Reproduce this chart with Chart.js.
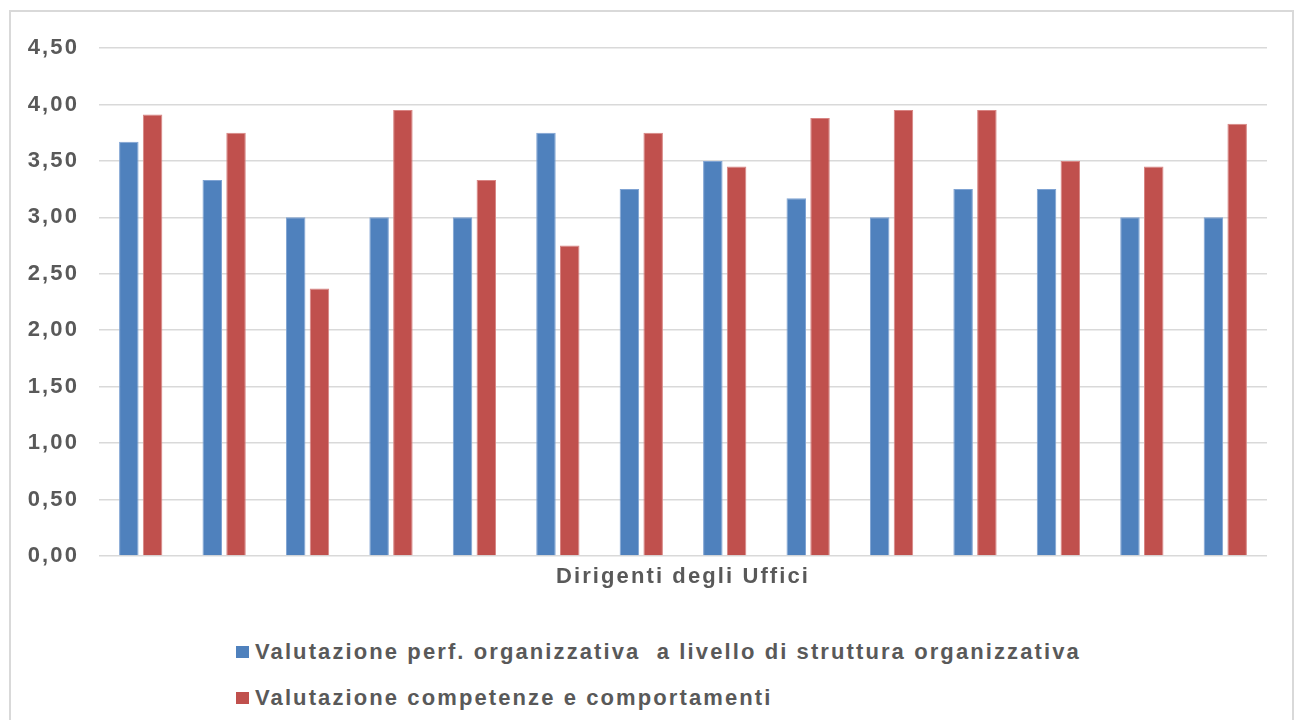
<!DOCTYPE html>
<html>
<head>
<meta charset="utf-8">
<script src="https://cdn.jsdelivr.net/npm/chart.js@4.4.1/dist/chart.umd.min.js"></script>
<style>
  body { margin: 0; background: #fff; font-family: "Liberation Sans", Arial, sans-serif; }
  #frame { position: absolute; left: 9px; top: 10px; width: 1285px; height: 720px; border: 2px solid #d9d9d9; box-sizing: border-box; }
  #wrap { position: absolute; left: 0; top: 0; width: 1297px; height: 600px; }
  #legend { position: absolute; left: 236px; top: 629px; font-weight: bold; font-size: 22px; letter-spacing: 2.1px; color: #595959; }
  .item { display: flex; align-items: center; height: 46px; white-space: pre; }
  .box { width: 13px; height: 12px; margin-right: 6px; }
</style>
</head>
<body>
<div id="frame"></div>
<div id="wrap"><canvas id="chart"></canvas></div>
<div id="legend"></div>
<script>
// Data
const uffici = ['Ufficio 1', 'Ufficio 2', 'Ufficio 3', 'Ufficio 4', 'Ufficio 5', 'Ufficio 6', 'Ufficio 7',
                'Ufficio 8', 'Ufficio 9', 'Ufficio 10', 'Ufficio 11', 'Ufficio 12', 'Ufficio 13', 'Ufficio 14'];
const perfOrganizzativa = [3.67, 3.33, 3.00, 3.00, 3.00, 3.75, 3.25, 3.50, 3.17, 3.00, 3.25, 3.25, 3.00, 3.00];
const competenze = [3.91, 3.75, 2.37, 3.95, 3.33, 2.75, 3.75, 3.45, 3.88, 3.95, 3.95, 3.50, 3.45, 3.83];
const seriesNames = ['Valutazione perf. organizzativa  a livello di struttura organizzativa',
                     'Valutazione competenze e comportamenti'];
const seriesColors = ['#4f81bd', '#c0504d'];

const textGray = '#595959';
const font = { family: '"Liberation Sans", Arial, sans-serif', size: 22, weight: 'bold' };

// the original text is drawn a bit wider, so space the letters out on the canvas too
const letterSpacing = {
    id: 'letterSpacing',
    beforeUpdate: (chart) => { chart.ctx.letterSpacing = '2.1px'; },
    beforeDraw: (chart) => { chart.ctx.letterSpacing = '2.1px'; }
};

const ctx = document.getElementById('chart').getContext('2d');
new Chart(ctx, {
    type: 'bar',
    data: {
        labels: uffici,
        datasets: [
            { label: seriesNames[0], data: perfOrganizzativa, backgroundColor: seriesColors[0], borderColor: '#7fa3d3', borderWidth: 1 },
            { label: seriesNames[1], data: competenze, backgroundColor: seriesColors[1], borderColor: '#d88583', borderWidth: 1 }
        ]
    },
    options: {
        responsive: true,
        maintainAspectRatio: false,
        animation: false,
        layout: { padding: { left: 26, right: 30, top: 48, bottom: 0 } },
        datasets: { bar: { categoryPercentage: 0.57, barPercentage: 0.82 } },
        plugins: { legend: { display: false }, tooltip: { enabled: false } },
        scales: {
            x: {
                grid: { display: false },
                border: { display: false },
                ticks: { display: false },
                title: { display: true, text: 'Dirigenti degli Uffici', color: textGray, font: font, padding: { top: 0, bottom: 10 } },
                afterFit: (scale) => { scale.height = 44; }
            },
            y: {
                min: 0,
                max: 4.5,
                border: { display: false },
                grid: { color: '#d9d9d9', lineWidth: 1.5, drawTicks: false },
                ticks: {
                    stepSize: 0.5,
                    padding: 20,
                    color: textGray,
                    font: font,
                    callback: (v) => v.toFixed(2).replace('.', ',')
                },
                afterFit: (scale) => { scale.width = 73; }
            }
        }
    },
    plugins: [letterSpacing]
});

// Legend stacked in one column, as in the original
const legend = document.getElementById('legend');
seriesNames.forEach((name, i) => {
    const row = document.createElement('div');
    row.className = 'item';
    const box = document.createElement('span');
    box.className = 'box';
    box.style.background = seriesColors[i];
    row.appendChild(box);
    row.appendChild(document.createTextNode(name));
    legend.appendChild(row);
});
</script>
</body>
</html>
